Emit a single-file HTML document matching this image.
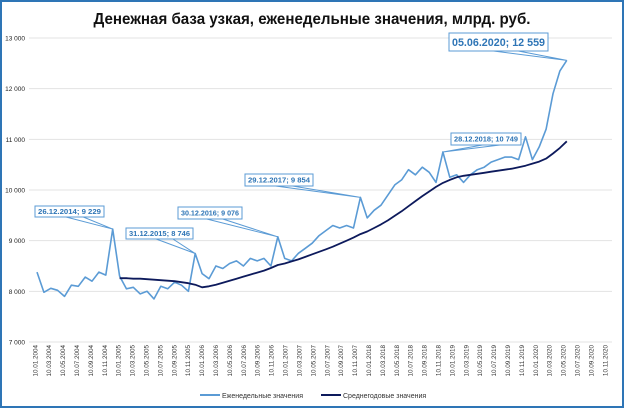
<!DOCTYPE html>
<html><head><meta charset="utf-8"><style>
body{margin:0;background:#fff}
svg{display:block;font-family:"Liberation Sans",sans-serif}
</style></head><body>
<svg id="chart" width="624" height="408" viewBox="0 0 624 408" xmlns="http://www.w3.org/2000/svg">
<rect x="1" y="1" width="622" height="406" fill="#fff" stroke="#2e75b6" stroke-width="2"/>
<text x="312" y="24" text-anchor="middle" font-size="15.5" font-weight="bold" fill="#111" textLength="437" lengthAdjust="spacingAndGlyphs">Денежная база узкая, еженедельные значения, млрд. руб.</text>
<g id="grid"></g><g id="ylabels"></g><g id="xlabels"></g><g id="series"></g><g id="callouts"></g>
<g>
<line x1="200" y1="395" x2="220" y2="395" stroke="#5b9bd5" stroke-width="2"/>
<text x="222" y="398" font-size="7" fill="#333">Еженедельные значения</text>
<line x1="321" y1="395" x2="341" y2="395" stroke="#0d1a5c" stroke-width="2"/>
<text x="343" y="398" font-size="7" fill="#333">Среднегодовые значения</text>
</g>
</svg>
<script>
const yTicks=[7000,8000,9000,10000,11000,12000,13000];
const yTickLabels=["7 000","8 000","9 000","10 000","11 000","12 000","13 000"];
const xTickLabels=["10.01.2004","10.03.2004","10.05.2004","10.07.2004","10.09.2004","10.11.2004","10.01.2005","10.03.2005","10.05.2005","10.07.2005","10.09.2005","10.11.2005","10.01.2006","10.03.2006","10.05.2006","10.07.2006","10.09.2006","10.11.2006","10.01.2007","10.03.2007","10.05.2007","10.07.2007","10.09.2007","10.11.2007","10.01.2018","10.03.2018","10.05.2018","10.07.2018","10.09.2018","10.11.2018","10.01.2019","10.03.2019","10.05.2019","10.07.2019","10.09.2019","10.11.2019","10.01.2020","10.03.2020","10.05.2020","10.07.2020","10.09.2020","10.11.2020"];
const weeklyValues=[8380,7980,8060,8020,7900,8120,8100,8280,8200,8380,8320,9229,
8300,8050,8080,7950,8000,7850,8100,8050,8180,8120,8000,8746,
8350,8250,8500,8450,8550,8600,8500,8650,8600,8650,8500,9076,
8650,8600,8750,8850,8950,9100,9200,9300,9250,9300,9250,9854,
9450,9600,9700,9900,10100,10200,10400,10300,10450,10350,10150,10749,
10250,10300,10150,10300,10400,10450,10550,10600,10650,10650,10600,11050,
10600,10850,11200,11900,12350,12559];
const weeklyStartMonth=0;
const averageValues=[8260,8260,8250,8250,8240,8230,8220,8210,8200,8180,8160,8130,
8080,8100,8130,8170,8210,8250,8290,8330,8370,8410,8460,8520,
8550,8590,8630,8680,8730,8780,8830,8880,8940,9000,9060,9130,
9180,9250,9320,9400,9490,9580,9680,9780,9880,9970,10060,10140,
10200,10250,10280,10300,10320,10340,10360,10380,10400,10420,10450,10480,
10520,10560,10620,10720,10830,10960];
const averageStartMonth=12;
const calloutLabels=["26.12.2014; 9 229","31.12.2015; 8 746","30.12.2016; 9 076","29.12.2017; 9 854","28.12.2018; 10 749","05.06.2020; 12 559"];
const calloutIndex=[11,23,35,47,59,77];

const NS="http://www.w3.org/2000/svg";
const X0=29,X1=612;
function yS(v){return 342-(v-7000)*0.05067;}
function xS(m){return 37+m*6.88;}
function mk(tag,attrs,parent){const e=document.createElementNS(NS,tag);for(const k in attrs)e.setAttribute(k,attrs[k]);parent.appendChild(e);return e;}

const grid=document.getElementById('grid'),yl=document.getElementById('ylabels');
yTicks.forEach((v,i)=>{
  const l=mk('line',{x1:X0,x2:X1,y1:yS(v),y2:yS(v),stroke:'#e3e3e3','stroke-width':1},grid);
  
  
  const t=mk('text',{x:25,y:yS(v)+2.5,'text-anchor':'end','font-size':6.5,fill:'#222'},yl);
  t.textContent=yTickLabels[i];
  
  
});
const xl=document.getElementById('xlabels');
const step=(605-35)/(xTickLabels.length-1);
xTickLabels.forEach((s,i)=>{
  const x=35+i*step;
  const t=mk('text',{x:0,y:0,transform:`translate(${x+2.3},345) rotate(-90)`,'text-anchor':'end','font-size':6.3,fill:'#333'},xl);
  t.textContent=s;
  
  
});
const ser=document.getElementById('series');
const wp=weeklyValues.map((v,i)=>xS(weeklyStartMonth+i).toFixed(1)+','+yS(v).toFixed(1)).join(' ');
const w=mk('polyline',{points:wp,fill:'none',stroke:'#5b9bd5','stroke-width':1.6,'stroke-linejoin':'round'},ser);


const ap=averageValues.map((v,i)=>xS(averageStartMonth+i).toFixed(1)+','+yS(v).toFixed(1)).join(' ');
const a=mk('polyline',{points:ap,fill:'none',stroke:'#0d1a5c','stroke-width':1.8,'stroke-linejoin':'round'},ser);



const boxes=[[35,206,69,11],[126,228,67,11],[178,207,64,12],[245,174,68,12],[451,133,70,12],[449,33,99,18]];
const co=document.getElementById('callouts');
calloutLabels.forEach((s,i)=>{
  const [bx,by,bw,bh]=boxes[i];
  const px=xS(weeklyStartMonth+calloutIndex[i]),py=yS(weeklyValues[calloutIndex[i]]);
  const g=mk('g',{},co);
  
  
  const a1=bx+bw*0.45,a2=bx+bw*0.7;
  mk('polyline',{points:`${a1},${by+bh} ${px},${py} ${a2},${by+bh}`,fill:'none',stroke:'#5b9bd5','stroke-width':1},g);
  mk('rect',{x:bx,y:by,width:bw,height:bh,fill:'#fff',stroke:'#5b9bd5','stroke-width':1},g);
  const fs=i===5?11:7.4;
  const t=mk('text',{x:bx+bw/2,y:by+bh/2+fs*0.36,'text-anchor':'middle','font-size':fs,'font-weight':'bold',fill:'#2e75b6',textLength:bw-6,lengthAdjust:'spacingAndGlyphs'},g);
  t.textContent=s;
});
</script>
</body></html>
